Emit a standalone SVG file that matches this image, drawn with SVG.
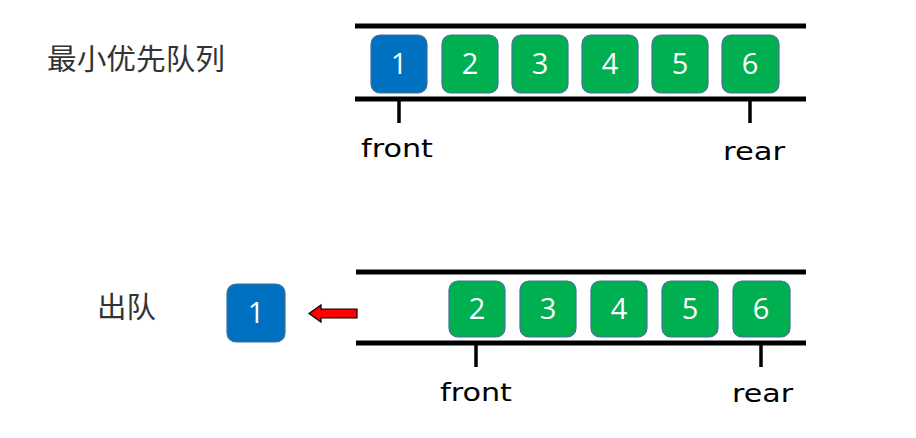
<svg xmlns="http://www.w3.org/2000/svg" width="916" height="438" viewBox="0 0 916 438">
<style>
.rail{stroke:#000;stroke-width:5;fill:none}
.tick{stroke:#000;stroke-width:3.5;fill:none}
.box rect{stroke:#41719C;stroke-width:1.2}
.blue rect{fill:#0070C0}
.green rect{fill:#00B050}
.box text{fill:#fff;font-family:"Open Sans","DejaVu Sans",sans-serif;font-size:29px;text-anchor:middle}
.lbl{font-family:"DejaVu Sans",sans-serif;font-size:25px;fill:#000}
.cn{font-family:"Noto Sans CJK SC",sans-serif;font-size:29px;fill:#333}
</style>
<rect width="916" height="438" fill="#fff"/>
<text class="cn" x="47" y="70" textLength="178" lengthAdjust="spacingAndGlyphs">最小优先队列</text>
<text class="cn" x="97" y="318" textLength="59" lengthAdjust="spacingAndGlyphs">出队</text>
<g id="connectors">
<line class="rail" x1="355" y1="26" x2="806" y2="26"/>
<line class="rail" x1="355" y1="99" x2="806" y2="99"/>
<line class="tick" x1="399" y1="99" x2="399" y2="123"/>
<line class="tick" x1="750" y1="99" x2="750" y2="123"/>
<line class="rail" x1="356" y1="272" x2="806" y2="272"/>
<line class="rail" x1="356" y1="343" x2="806" y2="343"/>
<line class="tick" x1="476" y1="343" x2="476" y2="367"/>
<line class="tick" x1="761" y1="343" x2="761" y2="367"/>
<polygon points="357,309 321,309 321,305 309,313.5 321,322 321,318 357,318" fill="#FF0000" stroke="#000" stroke-width="1.2"/>
</g>
<text class="lbl" x="361" y="157" textLength="72" lengthAdjust="spacingAndGlyphs">front</text>
<text class="lbl" x="723" y="160" textLength="62" lengthAdjust="spacingAndGlyphs">rear</text>
<text class="lbl" x="440" y="401" textLength="72" lengthAdjust="spacingAndGlyphs">front</text>
<text class="lbl" x="732" y="402" textLength="61" lengthAdjust="spacingAndGlyphs">rear</text>
<g id="q1-n1" class="box blue"><rect x="371" y="35" width="56" height="58" rx="9"/><text x="399" y="74">1</text></g>
<g id="q1-n2" class="box green"><rect x="442" y="35" width="56" height="58" rx="9"/><text x="470" y="74">2</text></g>
<g id="q1-n3" class="box green"><rect x="512" y="35" width="56" height="58" rx="9"/><text x="540" y="74">3</text></g>
<g id="q1-n4" class="box green"><rect x="582" y="35" width="56" height="58" rx="9"/><text x="610" y="74">4</text></g>
<g id="q1-n5" class="box green"><rect x="652" y="35" width="56" height="58" rx="9"/><text x="680" y="74">5</text></g>
<g id="q1-n6" class="box green"><rect x="722" y="35" width="57" height="58" rx="9"/><text x="750" y="74">6</text></g>
<g id="out-n1" class="box blue"><rect x="227" y="284" width="58" height="58" rx="9"/><text x="256" y="323">1</text></g>
<g id="q2-n2" class="box green"><rect x="449" y="281" width="56" height="56" rx="9"/><text x="477" y="319">2</text></g>
<g id="q2-n3" class="box green"><rect x="520" y="281" width="56" height="56" rx="9"/><text x="548" y="319">3</text></g>
<g id="q2-n4" class="box green"><rect x="591" y="281" width="56" height="56" rx="9"/><text x="619" y="319">4</text></g>
<g id="q2-n5" class="box green"><rect x="662" y="281" width="56" height="56" rx="9"/><text x="690" y="319">5</text></g>
<g id="q2-n6" class="box green"><rect x="733" y="281" width="57" height="56" rx="9"/><text x="761" y="319">6</text></g>
</svg>
